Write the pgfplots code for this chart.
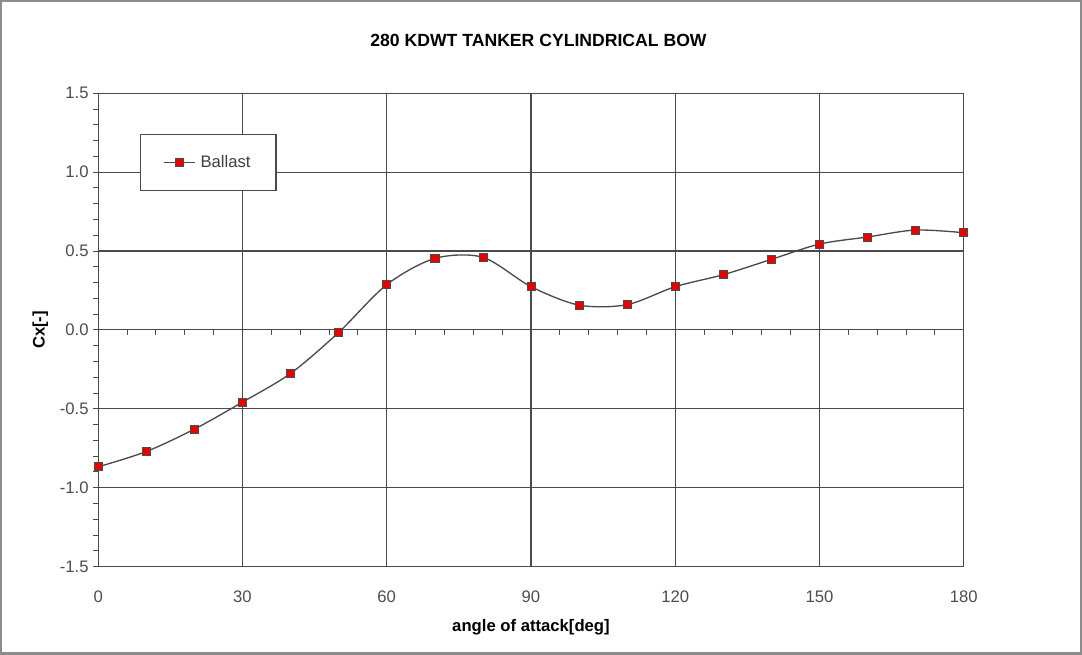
\documentclass[border=0pt]{standalone}
\usepackage{pgfplots}
\pgfplotsset{compat=1.18}
\usepackage{fontspec}
\setmainfont{Liberation Sans}
\definecolor{gridc}{HTML}{4A4A4A}
\definecolor{mred}{HTML}{E60000}
\begin{document}
\begin{tikzpicture}
\draw[black!45, line width=1.8pt] (-72.75pt,-65.25pt) rectangle (736.5pt,423.75pt);
\node[font=\fontsize{13.2}{15}\selectfont\bfseries] at (330pt,394pt) {280 KDWT TANKER CYLINDRICAL BOW};
\begin{axis}[
  at={(0pt,0pt)}, anchor=south west,
  scale only axis, width=648.75pt, height=354.75pt,
  xmin=0, xmax=180, ymin=-1.5, ymax=1.5,
  xtick={0,30,...,180},
  ytick={-1.5,-1,-0.5,0,0.5,1,1.5},
  minor y tick num=4,
  ytick pos=left,
  grid=major,
  grid style={gridc, line width=0.8pt},
  axis line style={gridc, line width=0.9pt},
  tick align=outside,
  major tick length=3.75pt, minor tick length=3.75pt,
  ytick style={gridc, line width=0.7pt},
  xtick style={draw=none},
  tick label style={font=\fontsize{12.5}{14}\selectfont, text=black!70},
  /pgf/number format/assume math mode=true,
  yticklabel style={/pgf/number format/fixed, /pgf/number format/fixed zerofill, /pgf/number format/precision=1},
  xticklabel style={yshift=-11pt},
  xlabel={\bfseries angle of attack[deg]},
  ylabel={\bfseries Cx[-]},
  label style={font=\fontsize{12.5}{14}\selectfont},
  xlabel style={at={(axis description cs:0.5,0)}, anchor=center, yshift=-45.5pt},
  ylabel style={at={(axis description cs:0,0.5)}, anchor=center, rotate=0, yshift=43.5pt},
  legend style={at={(axis description cs:0.0486,0.913)}, anchor=north west,
    draw=gridc, line width=0.8pt, fill=white,
    inner xsep=17pt, inner ysep=13.5pt,
    font=\fontsize{12.5}{14}\selectfont, text=black!75},
  legend cell align=left,
  legend image code/.code={\draw[mark repeat=2, mark phase=2] plot coordinates {(0cm,0cm)(0.4cm,0cm)(0.8cm,0cm)};},
]
\addplot[smooth, gridc, line width=1pt, mark=square*, mark size=3pt,
  mark options={fill=mred, draw=black!70, line width=0.5pt, solid}]
coordinates {
(0,-0.868) (10,-0.771) (20,-0.629) (30,-0.458) (40,-0.276) (50,-0.016)
(60,0.287) (70,0.453) (80,0.46) (90,0.274) (100,0.157) (110,0.16)
(120,0.274) (130,0.35) (140,0.447) (150,0.544) (160,0.589) (170,0.633) (180,0.616)
};
\addlegendentry{\hspace{2pt}Ballast}
\foreach \t in {6,12,18,24,36,42,48,54,66,72,78,84,96,102,108,114,126,132,138,144,156,162,168,174} {
  \edef\temp{\noexpand\draw[gridc, line width=0.7pt] (axis cs:\t,0) -- ([yshift=-3.5pt]axis cs:\t,0);}
  \temp
}
\end{axis}
\end{tikzpicture}
\end{document}
